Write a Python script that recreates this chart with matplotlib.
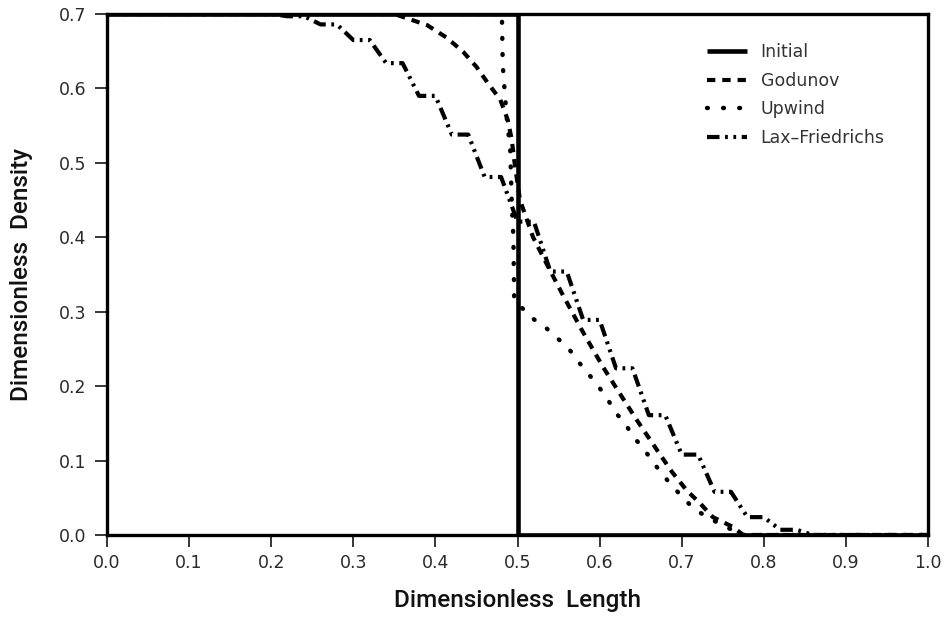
import matplotlib
matplotlib.use("Agg")
import matplotlib.pyplot as plt
from matplotlib.ticker import MultipleLocator, FormatStrFormatter

# Initial condition: step from 0.7 to 0 at x = 0.5
initial_x = [0.0, 0.5, 0.5, 1.0]
initial_y = [0.7, 0.7, 0.0, 0.0]

# Godunov scheme
godunov_x = [0.00, 0.35, 0.39, 0.414, 0.434, 0.45, 0.464, 0.479, 0.488, 0.493,
             0.496, 0.50, 0.503, 0.519, 0.531, 0.554, 0.578, 0.604, 0.631, 0.645,
             0.67, 0.688, 0.706, 0.722, 0.738, 0.762, 0.775, 1.0]
godunov_y = [0.70, 0.70, 0.685, 0.668, 0.649, 0.629, 0.607, 0.585, 0.558, 0.531,
             0.504, 0.473, 0.45, 0.40, 0.374, 0.325, 0.276, 0.226, 0.179, 0.155,
             0.114, 0.085, 0.060, 0.043, 0.024, 0.011, 0.0, 0.0]

# Upwind scheme
upwind_x = [0.00, 0.481, 0.482, 0.485, 0.488, 0.491, 0.493, 0.495, 0.496, 0.517,
            0.533, 0.549, 0.562, 0.574, 0.586, 0.597, 0.609, 0.619, 0.631, 0.641,
            0.653, 0.665, 0.677, 0.689, 0.702, 0.714, 0.731, 0.750, 0.767, 0.775, 1.0]
upwind_y = [0.70, 0.70, 0.632, 0.587, 0.547, 0.524, 0.446, 0.40, 0.316, 0.292,
            0.28, 0.264, 0.251, 0.233, 0.217, 0.202, 0.184, 0.165, 0.15, 0.132,
            0.117, 0.098, 0.081, 0.065, 0.05, 0.036, 0.024, 0.013, 0.004, 0.0, 0.0]

# Lax-Friedrichs scheme (odd/even cell pairs)
lf_x = [0.00, 0.20, 0.22, 0.24, 0.26, 0.28, 0.30, 0.32, 0.34, 0.36, 0.38, 0.40,
        0.42, 0.44, 0.46, 0.48, 0.50, 0.52, 0.54, 0.56, 0.58, 0.60, 0.62, 0.64,
        0.66, 0.68, 0.70, 0.72, 0.74, 0.76, 0.78, 0.80, 0.82, 0.84, 0.86, 1.00]
lf_y = [0.700, 0.700, 0.697, 0.697, 0.686, 0.686, 0.665, 0.665, 0.634, 0.634,
        0.590, 0.590, 0.538, 0.538, 0.481, 0.481, 0.421, 0.421, 0.354, 0.354,
        0.289, 0.289, 0.224, 0.224, 0.161, 0.161, 0.108, 0.108, 0.058, 0.058,
        0.024, 0.024, 0.007, 0.007, 0.000, 0.000]

plt.rcParams["lines.scale_dashes"] = False

fig = plt.figure(figsize=(9.46, 6.21), dpi=100)
ax = fig.add_axes([107 / 946, 86 / 621, 821 / 946, 521 / 621])

ax.plot(initial_x, initial_y, color="black", lw=3.3, solid_capstyle="butt",
        label="Initial")
ax.plot(godunov_x, godunov_y, color="black", lw=3.0, dashes=(6, 5),
        dash_capstyle="butt", label="Godunov")
ax.plot(upwind_x, upwind_y, color="black", lw=3.2, dashes=(0.6, 11),
        dash_capstyle="round", label="Upwind")
ax.plot(lf_x, lf_y, color="black", lw=3.0, dashes=(9, 4, 2, 4, 2, 4),
        dash_capstyle="butt", label="Lax\u2013Friedrichs")

ax.set_xlim(0, 1.0)
ax.set_ylim(0, 0.7)
ax.xaxis.set_major_locator(MultipleLocator(0.1))
ax.yaxis.set_major_locator(MultipleLocator(0.1))
ax.xaxis.set_major_formatter(FormatStrFormatter("%.1f"))
ax.yaxis.set_major_formatter(FormatStrFormatter("%.1f"))

for s in ax.spines.values():
    s.set_linewidth(2.4)

ax.tick_params(axis="both", direction="out", length=8.5, width=1.1,
               labelsize=12.5, colors="black")
ax.tick_params(axis="x", pad=5.5)
ax.tick_params(axis="y", pad=6.5)
for lab in ax.get_xticklabels() + ax.get_yticklabels():
    lab.set_color("#2a2a2a")

ax.set_xlabel("Dimensionless  Length", fontsize=17.5, fontweight="medium",
              family=["Roboto", "DejaVu Sans"], color="#111111")
ax.set_ylabel("Dimensionless  Density", fontsize=17.5, fontweight="medium",
              family=["Roboto", "DejaVu Sans"], color="#111111")
ax.xaxis.set_label_coords(0.5, -0.103)
ax.yaxis.set_label_coords(-0.09, 0.5)

leg = ax.legend(loc="upper left", bbox_to_anchor=(0.722, 0.957), frameon=False,
                fontsize=12.5, handlelength=2.3, handletextpad=0.8,
                labelspacing=0.6, borderaxespad=0)
for t in leg.get_texts():
    t.set_color("#333333")

fig.savefig("out.png", dpi=100)
